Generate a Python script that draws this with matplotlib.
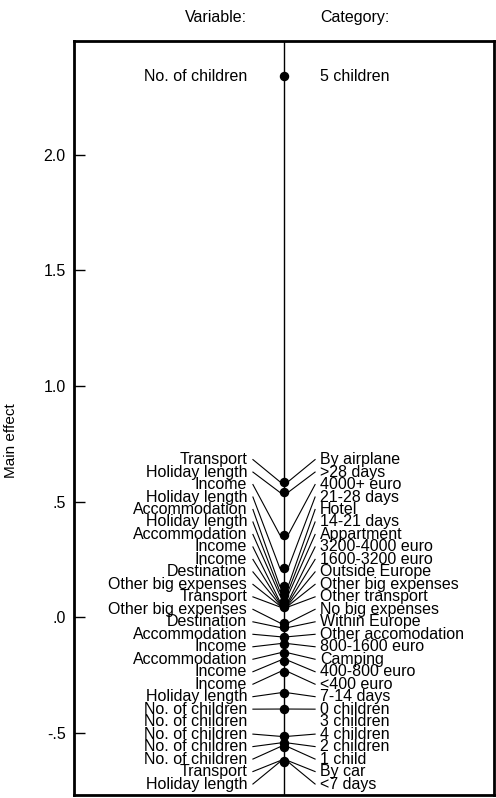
import numpy as np
import matplotlib.pyplot as plt

plt.rcParams['font.family'] = ['Liberation Sans', 'DejaVu Sans']

# main effects, sorted from high to low (3 children has no estimate drawn)
variables = [
    "No. of children",
    "Transport", "Holiday length", "Income", "Holiday length", "Accommodation",
    "Holiday length", "Accommodation", "Income", "Income", "Destination",
    "Other big expenses", "Transport", "Other big expenses", "Destination",
    "Accommodation", "Income", "Accommodation", "Income", "Income",
    "Holiday length", "No. of children", "No. of children", "No. of children",
    "No. of children", "No. of children", "Transport", "Holiday length",
]
categories = [
    "5 children",
    "By airplane", ">28 days", "4000+ euro", "21-28 days", "Hotel",
    "14-21 days", "Appartment", "3200-4000 euro", "1600-3200 euro", "Outside Europe",
    "Other big expenses", "Other transport", "No big expenses", "Within Europe",
    "Other accomodation", "800-1600 euro", "Camping", "400-800 euro", "<400 euro",
    "7-14 days", "0 children", "3 children", "4 children",
    "2 children", "1 child", "By car", "<7 days",
]
effects = [
    2.34,
    0.586, 0.540, 0.356, 0.212, 0.134,
    0.112, 0.095, 0.068, 0.060, 0.054,
    0.049, 0.044, -0.025, -0.045,
    -0.085, -0.115, -0.155, -0.188, -0.237,
    -0.328, -0.398, np.nan, -0.516,
    -0.545, -0.562, -0.622, -0.627,
]

effects = np.array(effects, dtype=float)

# label layout: isolated top label sits at its value, the rest evenly spaced
step = 0.054
rest = effects[1:]
mid = (np.nanmax(rest) + np.nanmin(rest)) / 2
n = len(rest)
label_y = np.concatenate([[effects[0]],
                          mid + step * ((n - 1) / 2 - np.arange(n))])

fig = plt.figure(figsize=(4.96, 7.98), dpi=100)
ax = fig.add_axes([74 / 496, 3 / 798, 420 / 496, 754 / 798])

ax.set_xlim(0, 1)
ax.set_ylim(-0.77, 2.493)

ax.axvline(0.5, color='black', lw=1.0, zorder=1)

fs = 11.5
for i, (v, c, e, ly) in enumerate(zip(variables, categories, effects, label_y)):
    ax.text(0.412, ly, v, ha='right', va='center', fontsize=fs)
    ax.text(0.586, ly, c, ha='left', va='center', fontsize=fs)
    if np.isnan(e):
        continue
    ax.plot(0.5, e, 'o', color='black', ms=5.8, zorder=3)
    if i > 0:
        ax.plot([0.426, 0.49], [ly, e], color='black', lw=0.8, zorder=2)
        ax.plot([0.51, 0.574], [e, ly], color='black', lw=0.8, zorder=2)

ax.text(0.412, 1.031, "Variable:", transform=ax.transAxes, ha='right',
        va='center', fontsize=fs)
ax.text(0.586, 1.031, "Category:", transform=ax.transAxes, ha='left',
        va='center', fontsize=fs)

ax.set_yticks([-0.5, 0, 0.5, 1.0, 1.5, 2.0])
ax.set_yticklabels(['-.5', '.0', '.5', '1.0', '1.5', '2.0'])
ax.set_xticks([])
ax.tick_params(axis='y', direction='in', length=8, width=1, labelsize=fs, pad=6)
ax.set_ylabel("Main effect", fontsize=11)
ax.yaxis.set_label_coords(-0.133, 0.47)

for s in ax.spines.values():
    s.set_linewidth(2)

fig.savefig("out.png", dpi=100)
